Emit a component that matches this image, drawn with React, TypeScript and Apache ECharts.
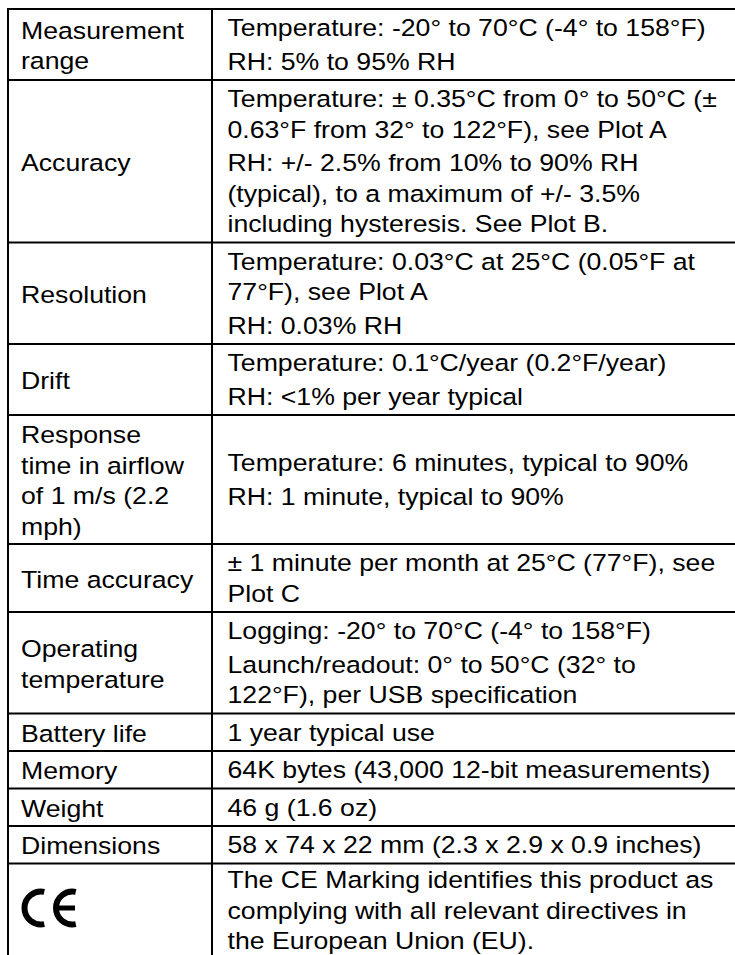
import React, { useEffect, useRef } from "react";
import * as echarts from "echarts";

// Left column: row headings (each inner array = wrapped lines)
const rowLabels: string[][] = [
  ["Measurement", "range"],
  ["Accuracy"],
  ["Resolution"],
  ["Drift"],
  ["Response", "time in airflow", "of 1 m/s (2.2", "mph)"],
  ["Time accuracy"],
  ["Operating", "temperature"],
  ["Battery life"],
  ["Memory"],
  ["Weight"],
  ["Dimensions"],
  [],
];

// Right column: paragraphs of wrapped lines
const rowDetails: string[][][] = [
  [["Temperature: -20° to 70°C (-4° to 158°F)"], ["RH: 5% to 95% RH"]],
  [
    ["Temperature: ± 0.35°C from 0° to 50°C (±", "0.63°F from 32° to 122°F), see Plot A"],
    ["RH: +/- 2.5% from 10% to 90% RH", "(typical), to a maximum of +/- 3.5%", "including hysteresis. See Plot B."],
  ],
  [["Temperature: 0.03°C at 25°C (0.05°F at", "77°F), see Plot A"], ["RH: 0.03% RH"]],
  [["Temperature: 0.1°C/year (0.2°F/year)"], ["RH: <1% per year typical"]],
  [["Temperature: 6 minutes, typical to 90%"], ["RH: 1 minute, typical to 90%"]],
  [["± 1 minute per month at 25°C (77°F), see", "Plot C"]],
  [["Logging: -20° to 70°C (-4° to 158°F)"], ["Launch/readout: 0° to 50°C (32° to", "122°F), per USB specification"]],
  [["1 year typical use"]],
  [["64K bytes (43,000 12-bit measurements)"]],
  [["46 g (1.6 oz)"]],
  [["58 x 74 x 22 mm (2.3 x 2.9 x 0.9 inches)"]],
  [["The CE Marking identifies this product as", "complying with all relevant directives in", "the European Union (EU)."]],
];

const ceMarkRow = 11;

// ---- layout (page geometry, not data) ----
const W = 735;
const H = 955;
const LEFT_X = 8;
const DIV_X = 212;
const TOP_Y = 9;
const LINE = 30.5; // line pitch inside a paragraph
const PARA = 3; // space after each paragraph
const PAD = 4; // cell padding (top + bottom)
const FIRST = 18.5; // first line centre below the rule
const FONT = 24.5;
const STRETCH = 1.088;
const FAMILY = "Arial";

function buildGraphics() {
  const els: any[] = [];
  const text = (x: number, y: number, t: string) =>
    els.push({
      type: "text",
      x,
      y,
      scaleX: STRETCH,
      silent: true,
      style: {
        text: t,
        fontSize: FONT,
        fontFamily: FAMILY,
        fill: "#000",
        align: "left",
        verticalAlign: "middle",
      },
    });

  const edges: number[] = [TOP_Y];
  let top = TOP_Y;
  rowLabels.forEach((label, i) => {
    const paras = rowDetails[i];
    const leftLines = label.length;
    const rightLines = paras.reduce((s, p) => s + p.length, 0);
    const leftH = leftLines * LINE + PARA;
    const rightH = rightLines * LINE + paras.length * PARA;
    const rowH = Math.max(leftH, rightH) + PAD;
    const mid = top + rowH / 2 + 1;
    const shift = i === ceMarkRow ? -2.5 : 0;

    // left cell: vertically centred
    if (leftLines > 0) {
      label.forEach((ln, k) => text(LEFT_X + 13, mid - ((leftLines - 1) * LINE) / 2 + k * LINE, ln));
    }

    // right cell: top aligned, centred when shorter than the heading
    const span = (rightLines - 1) * LINE + (paras.length - 1) * PARA;
    let y = rightLines < leftLines ? mid - span / 2 - 1 : top + FIRST + shift;
    paras.forEach((p) => {
      p.forEach((ln) => {
        text(DIV_X + 15.5, y, ln);
        y += LINE;
      });
      y += PARA;
    });

    if (i === ceMarkRow) {
      const cy = 908;
      const r = 16.5;
      const ext = 0.2;
      const arcStyle = { stroke: "#000", lineWidth: 6, fill: "none" };
      els.push({
        type: "arc",
        silent: true,
        shape: { cx: 41, cy, r, startAngle: Math.PI / 2 - ext, endAngle: (3 * Math.PI) / 2 + ext, clockwise: true },
        style: arcStyle,
      });
      els.push({
        type: "arc",
        silent: true,
        shape: { cx: 72.5, cy, r, startAngle: Math.PI / 2 - ext, endAngle: (3 * Math.PI) / 2 + ext, clockwise: true },
        style: arcStyle,
      });
      els.push({
        type: "line",
        silent: true,
        shape: { x1: 72.5 - r, y1: cy, x2: 75, y2: cy },
        style: { stroke: "#000", lineWidth: 5 },
      });
    }

    top += rowH;
    edges.push(top);
  });

  // grid lines (no right-hand border; last row runs off the page)
  const lineStyle = { stroke: "#000", lineWidth: 2 };
  edges.forEach((b) => {
    els.push({ type: "line", silent: true, shape: { x1: LEFT_X - 1, y1: b, x2: W, y2: b }, style: lineStyle });
  });
  els.push({ type: "line", silent: true, shape: { x1: LEFT_X, y1: TOP_Y - 1, x2: LEFT_X, y2: H }, style: lineStyle });
  els.push({ type: "line", silent: true, shape: { x1: DIV_X, y1: TOP_Y - 1, x2: DIV_X, y2: H }, style: lineStyle });
  return els;
}

export default function App() {
  const ref = useRef<HTMLDivElement>(null);
  useEffect(() => {
    if (!ref.current) return;
    const chart = echarts.init(ref.current, undefined, { renderer: "svg", width: W, height: H });
    chart.setOption({
      animation: false,
      backgroundColor: "#fff",
      graphic: { elements: buildGraphics() },
    });
    return () => chart.dispose();
  }, []);
  return (
    <div
      ref={ref}
      style={{ position: "fixed", left: 0, top: 0, width: W, height: H, background: "#fff" }}
    />
  );
}
